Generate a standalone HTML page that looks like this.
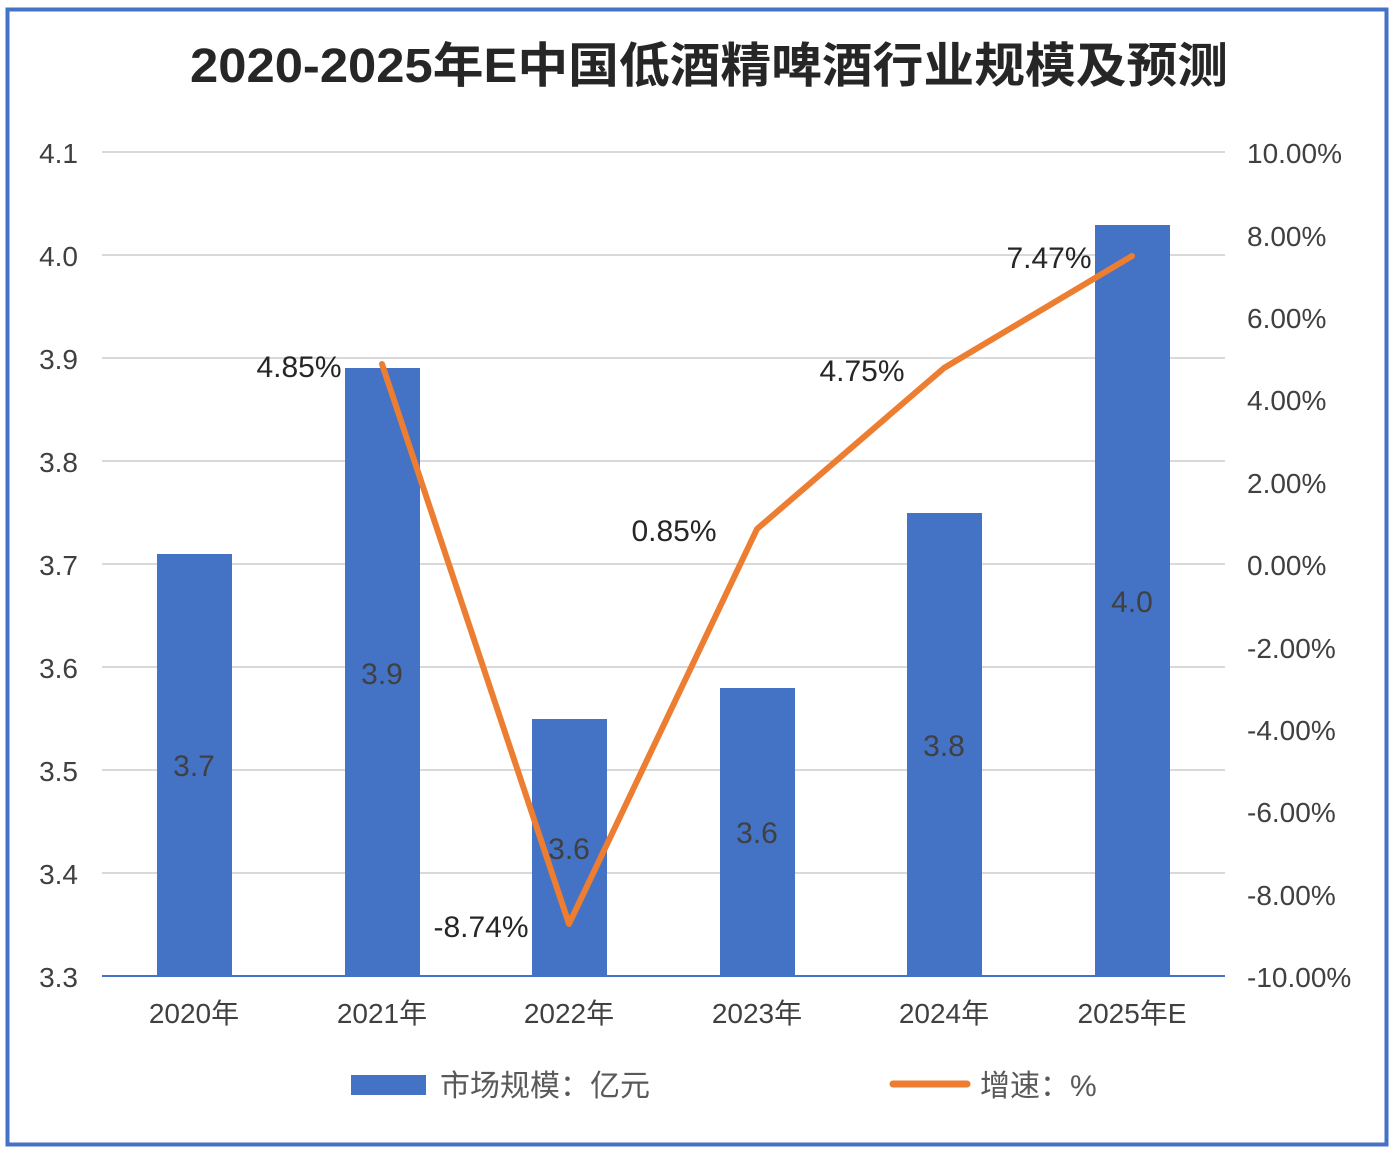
<!DOCTYPE html>
<html><head><meta charset="utf-8"><style>
body{margin:0;background:#fff}
svg text{font-family:"Liberation Sans","Noto Sans CJK SC",sans-serif}
</style></head><body>
<svg width="1392" height="1152" xmlns="http://www.w3.org/2000/svg">
<rect x="0" y="0" width="1392" height="1152" fill="#fff"/>
<rect x="7.5" y="9.5" width="1379" height="1135" fill="none" stroke="#4472C4" stroke-width="4"/>
<text x="190" y="82" textLength="1038" lengthAdjust="spacingAndGlyphs" font-size="48" font-weight="bold" fill="#262626">2020-2025年E中国低酒精啤酒行业规模及预测</text>
<g stroke="#d9d9d9" stroke-width="2">
<line x1="102" y1="152" x2="1225" y2="152"/><line x1="102" y1="255" x2="1225" y2="255"/>
<line x1="102" y1="358" x2="1225" y2="358"/><line x1="102" y1="461" x2="1225" y2="461"/>
<line x1="102" y1="564" x2="1225" y2="564"/><line x1="102" y1="667" x2="1225" y2="667"/>
<line x1="102" y1="770" x2="1225" y2="770"/><line x1="102" y1="873" x2="1225" y2="873"/>
</g>
<g fill="#4472C4">
<rect x="157" y="554" width="75" height="422"/>
<rect x="345" y="368" width="75" height="608"/>
<rect x="532" y="719" width="75" height="257"/>
<rect x="720" y="688" width="75" height="288"/>
<rect x="907" y="513" width="75" height="463"/>
<rect x="1095" y="225" width="75" height="751"/>
</g>
<line x1="102" y1="976" x2="1225" y2="976" stroke="#4472C4" stroke-width="2"/>
<g font-size="28" fill="#404040">
<text x="78" y="163" text-anchor="end">4.1</text><text x="78" y="266" text-anchor="end">4.0</text>
<text x="78" y="369" text-anchor="end">3.9</text><text x="78" y="472" text-anchor="end">3.8</text>
<text x="78" y="575" text-anchor="end">3.7</text><text x="78" y="678" text-anchor="end">3.6</text>
<text x="78" y="781" text-anchor="end">3.5</text><text x="78" y="884" text-anchor="end">3.4</text>
<text x="78" y="987" text-anchor="end">3.3</text>
<text x="1247" y="163">10.00%</text><text x="1247" y="246">8.00%</text>
<text x="1247" y="328">6.00%</text><text x="1247" y="410">4.00%</text>
<text x="1247" y="493">2.00%</text><text x="1247" y="575">0.00%</text>
<text x="1247" y="658">-2.00%</text><text x="1247" y="740">-4.00%</text>
<text x="1247" y="822">-6.00%</text><text x="1247" y="905">-8.00%</text>
<text x="1247" y="987">-10.00%</text>
<g text-anchor="middle">
<text x="194" y="1023">2020年</text><text x="382" y="1023">2021年</text>
<text x="569" y="1023">2022年</text><text x="757" y="1023">2023年</text>
<text x="944" y="1023">2024年</text><text x="1132" y="1023">2025年E</text>
</g>
</g>
<g font-size="30" fill="#404040" text-anchor="middle">
<text x="194" y="776">3.7</text><text x="382" y="684">3.9</text>
<text x="569" y="859">3.6</text><text x="757" y="843">3.6</text>
<text x="944" y="756">3.8</text><text x="1132" y="612">4.0</text>
</g>
<polyline points="382,364 569,924 757,529 944,368 1132,256" fill="none" stroke="#ED7D31" stroke-width="6" stroke-linejoin="round" stroke-linecap="round"/>
<g font-size="30" fill="#262626" text-anchor="middle">
<text x="299" y="377">4.85%</text><text x="481" y="937">-8.74%</text>
<text x="674" y="541">0.85%</text><text x="862" y="381">4.75%</text>
<text x="1049" y="268">7.47%</text>
</g>
<rect x="351" y="1075" width="75" height="20" fill="#4472C4"/>
<text x="440" y="1096" font-size="30" fill="#595959">市场规模：亿元</text>
<line x1="893" y1="1084" x2="967" y2="1084" stroke="#ED7D31" stroke-width="7" stroke-linecap="round"/>
<text x="980" y="1096" font-size="30" fill="#595959">增速：%</text>
</svg>
</body></html>
